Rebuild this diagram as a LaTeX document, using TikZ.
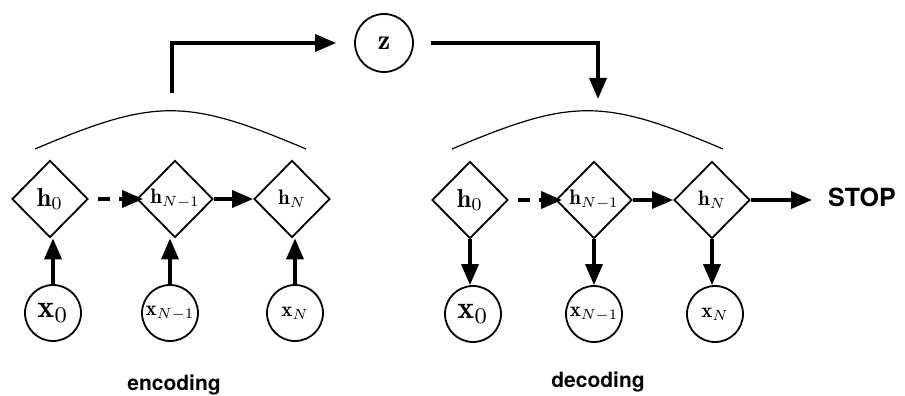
\documentclass[tikz,border=0pt]{standalone}
\usepackage{graphicx}
\usepackage{fontspec}
\setsansfont{TeX Gyre Heros}
\usetikzlibrary{shapes.geometric,arrows.meta}

% math labels enlarged from the 10pt design size
\newcommand{\lblbig}[1]{\scalebox{2.6}{$#1$}}
\newcommand{\lblmid}[1]{\scalebox{2.1}{$#1$}}
\newcommand{\lblhuge}[1]{\scalebox{3.2}{$#1$}}

\tikzset{
  hstate/.style={diamond, draw, line width=1.8pt, minimum width=76pt, minimum height=77pt, inner sep=0pt},
  obsnode/.style={circle, draw, line width=1.8pt, minimum size=56pt, inner sep=0pt},
  flow/.style={line width=3.5pt, -{Triangle[length=21pt,width=17pt]}},
  dflow/.style={flow, dash pattern=on 12pt off 9pt, shorten <=9pt, shorten >=-7pt},
  caption/.style={font=\sffamily\bfseries\fontsize{21}{24}\selectfont, inner sep=0pt},
  arcline/.style={line width=1.2pt},
}

\begin{document}
\begin{tikzpicture}[x=1pt, y=-1pt]
\useasboundingbox (0,0) rectangle (905,396);

% latent code
\node[obsnode, minimum size=58pt] (z) at (384,43) {\scalebox{2.8}{$\mathbf{z}$}};

% encoder chain
\node[hstate] (eh0) at (50,199) {\lblbig{\mathbf{h}_0}};
\node[hstate] (ehm) at (175,199) {\lblmid{\mathbf{h}_{N-1}}};
\node[hstate] (ehn) at (292,199) {\lblmid{\mathbf{h}_N}};
\node[obsnode] (ex0) at (53,313) {\lblhuge{\mathbf{x}_0}};
\node[obsnode] (exm) at (170,313) {\lblmid{\mathbf{x}_{N-1}}};
\node[obsnode] (exn) at (295,313) {\lblmid{\mathbf{x}_N}};

% decoder chain
\node[hstate] (dh0) at (470,200) {\lblbig{\mathbf{h}_0}};
\node[hstate] (dhm) at (594,200) {\lblmid{\mathbf{h}_{N-1}}};
\node[hstate] (dhn) at (712,200) {\lblmid{\mathbf{h}_N}};
\node[obsnode] (dx0) at (473,314) {\lblhuge{\mathbf{x}_0}};
\node[obsnode] (dxm) at (594,314) {\lblmid{\mathbf{x}_{N-1}}};
\node[obsnode] (dxn) at (715,314) {\lblmid{\mathbf{x}_N}};

\node[font=\sffamily\bfseries\fontsize{25}{28}\selectfont, inner sep=0pt, anchor=west] (stop) at (828,197) {STOP};

% captions
\node[caption] (enccap) at (174,385) {encoding};
\node[caption] (deccap) at (598,382) {decoding};

% encoder connections
\draw[flow] (ex0.north) -- (ex0.north |- eh0.south);
\draw[flow] (exm.north) -- (exm.north |- ehm.south);
\draw[flow] (exn.north) -- (exn.north |- ehn.south);
\draw[dflow] (eh0.east) -- (ehm.west);
\draw[flow] (ehm.east) -- (ehn.west);

% decoder connections
\draw[flow] (dh0.south) -- (dh0.south |- dx0.north);
\draw[flow] (dhm.south) -- (dhm.south |- dxm.north);
\draw[flow] (dhn.south) -- (dhn.south |- dxn.north);
\draw[dflow] (dh0.east) -- (dhm.west);
\draw[flow] (dhm.east) -- (dhn.west);
\draw[flow, shorten >=16pt] (dhn.east) -- (dhn.east -| stop.west);

% summary arcs over each chain
\draw[arcline] (35,149) .. controls (155,98) and (186,98) .. (306,149);
\draw[arcline] (452,149) .. controls (572,98) and (603,98) .. (723,149);

% paths through the latent code
\coordinate (encup) at (172,93);
\coordinate (decdown) at (598,99);
\draw[flow, line cap=butt, shorten >=18pt] (encup) |- (z);
\draw[flow, shorten <=17pt] (z) -| (decdown);
\end{tikzpicture}
\end{document}
